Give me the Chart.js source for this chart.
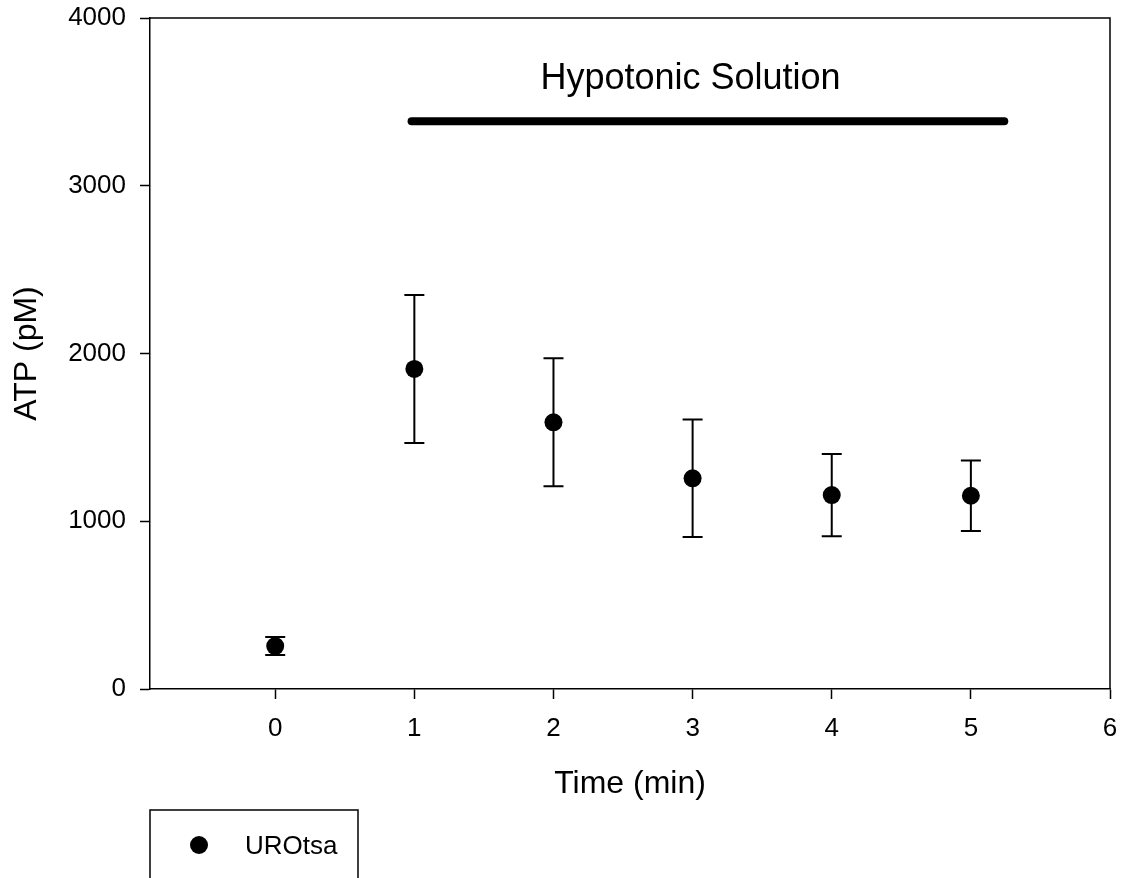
<!DOCTYPE html>
<html>
<head>
<meta charset="utf-8">
<script src="https://cdn.jsdelivr.net/npm/chart.js@4.4.0/dist/chart.umd.min.js"></script>
<style>
  body { margin: 0; background: #fff; }
</style>
</head>
<body>
<canvas id="myChart" width="1122" height="878"></canvas>
<script>
// data
var times = [0, 1, 2, 3, 4, 5];
var atpMean = [256, 1908, 1590, 1256, 1156, 1152];
var atpErr = [54, 441, 381, 350, 245, 210];
var xTicks = [0, 1, 2, 3, 4, 5, 6];
var yTicks = [0, 1000, 2000, 3000, 4000];
var seriesName = 'UROtsa';
var hypoLabel = 'Hypotonic Solution';
var hypoSpan = [0.98, 5.24];
var hypoLevel = 3385;
var hypoTextAt = [2.985, 3577];

var fam = '"Liberation Sans", Arial, sans-serif';

var puntos = times.map(function(t, i){ return {x: t, y: atpMean[i]}; });

// error bars, frame, annotation and legend
var extras = {
  id: 'extras',
  beforeDatasetsDraw: function(chart){
    var c = chart.ctx, xs = chart.scales.x, ys = chart.scales.y;
    c.save();
    c.strokeStyle = '#000';
    c.lineWidth = 2;
    times.forEach(function(t, i){
      var px = xs.getPixelForValue(t);
      var top = ys.getPixelForValue(atpMean[i] + atpErr[i]);
      var bot = ys.getPixelForValue(atpMean[i] - atpErr[i]);
      c.beginPath();
      c.moveTo(px, top); c.lineTo(px, bot);
      c.moveTo(px - 10, top); c.lineTo(px + 10, top);
      c.moveTo(px - 10, bot); c.lineTo(px + 10, bot);
      c.stroke();
    });
    c.restore();
  },
  afterDraw: function(chart){
    var c = chart.ctx, a = chart.chartArea, xs = chart.scales.x, ys = chart.scales.y;
    c.save();
    // top + right frame
    c.strokeStyle = '#000';
    c.lineWidth = 1.5;
    c.beginPath();
    c.moveTo(a.left, a.top); c.lineTo(a.right, a.top); c.lineTo(a.right, a.bottom);
    c.stroke();

    // hypotonic bar
    c.lineWidth = 8;
    c.lineCap = 'round';
    c.beginPath();
    c.moveTo(xs.getPixelForValue(hypoSpan[0]), ys.getPixelForValue(hypoLevel));
    c.lineTo(xs.getPixelForValue(hypoSpan[1]), ys.getPixelForValue(hypoLevel));
    c.stroke();

    c.fillStyle = '#000';
    c.font = '36px ' + fam;
    c.textAlign = 'center';
    c.textBaseline = 'alphabetic';
    c.fillText(hypoLabel, xs.getPixelForValue(hypoTextAt[0]), ys.getPixelForValue(hypoTextAt[1]));

    // legend box
    c.lineWidth = 1.5;
    c.lineCap = 'butt';
    c.strokeRect(150, 810, 208, 90);
    c.beginPath();
    c.arc(199, 845, 9, 0, Math.PI * 2);
    c.fill();
    c.font = '26px ' + fam;
    c.textAlign = 'left';
    c.fillText(seriesName, 245, 854);
    c.restore();
  }
};

var ctx = document.getElementById('myChart');
var grafica = new Chart(ctx, {
  type: 'scatter',
  data: {
    datasets: [{
      label: seriesName,
      data: puntos,
      pointRadius: 9,
      pointHoverRadius: 9,
      backgroundColor: '#000',
      borderColor: '#000',
      borderWidth: 0
    }]
  },
  options: {
    responsive: false,
    animation: false,
    layout: { padding: { left: 0, top: 18, right: 12, bottom: 0 } },
    plugins: { legend: { display: false }, tooltip: { enabled: false } },
    scales: {
      x: {
        type: 'linear',
        min: -0.9,
        max: 6,
        afterBuildTicks: function(s){ s.ticks = xTicks.map(function(v){ return {value: v}; }); },
        afterFit: function(s){ s.height = 189; s.paddingLeft = 0; s.paddingRight = 0; },
        grid: { drawOnChartArea: false, tickLength: 10, tickWidth: 1.5, tickColor: '#000' },
        border: { display: true, color: '#000', width: 1.5 },
        ticks: { color: '#000', padding: 14, font: { family: fam, size: 26 }, callback: function(v){ return String(v); } },
        title: { display: true, text: 'Time (min)', color: '#000', font: { family: fam, size: 32 }, padding: { top: 0, bottom: 75 } }
      },
      y: {
        type: 'linear',
        min: 0,
        max: 4000,
        afterBuildTicks: function(s){ s.ticks = yTicks.map(function(v){ return {value: v}; }); },
        afterFit: function(s){ s.width = 150; s.paddingTop = 0; s.paddingBottom = 0; },
        grid: { drawOnChartArea: false, tickLength: 10, tickWidth: 1.5, tickColor: '#000' },
        border: { display: true, color: '#000', width: 1.5 },
        ticks: { color: '#000', padding: 14, font: { family: fam, size: 26 }, callback: function(v){ return String(v); } },
        title: { display: true, text: 'ATP (pM)', color: '#000', font: { family: fam, size: 32 }, padding: { top: 8, bottom: 0 } }
      }
    }
  },
  plugins: [extras]
});
</script>
</body>
</html>
